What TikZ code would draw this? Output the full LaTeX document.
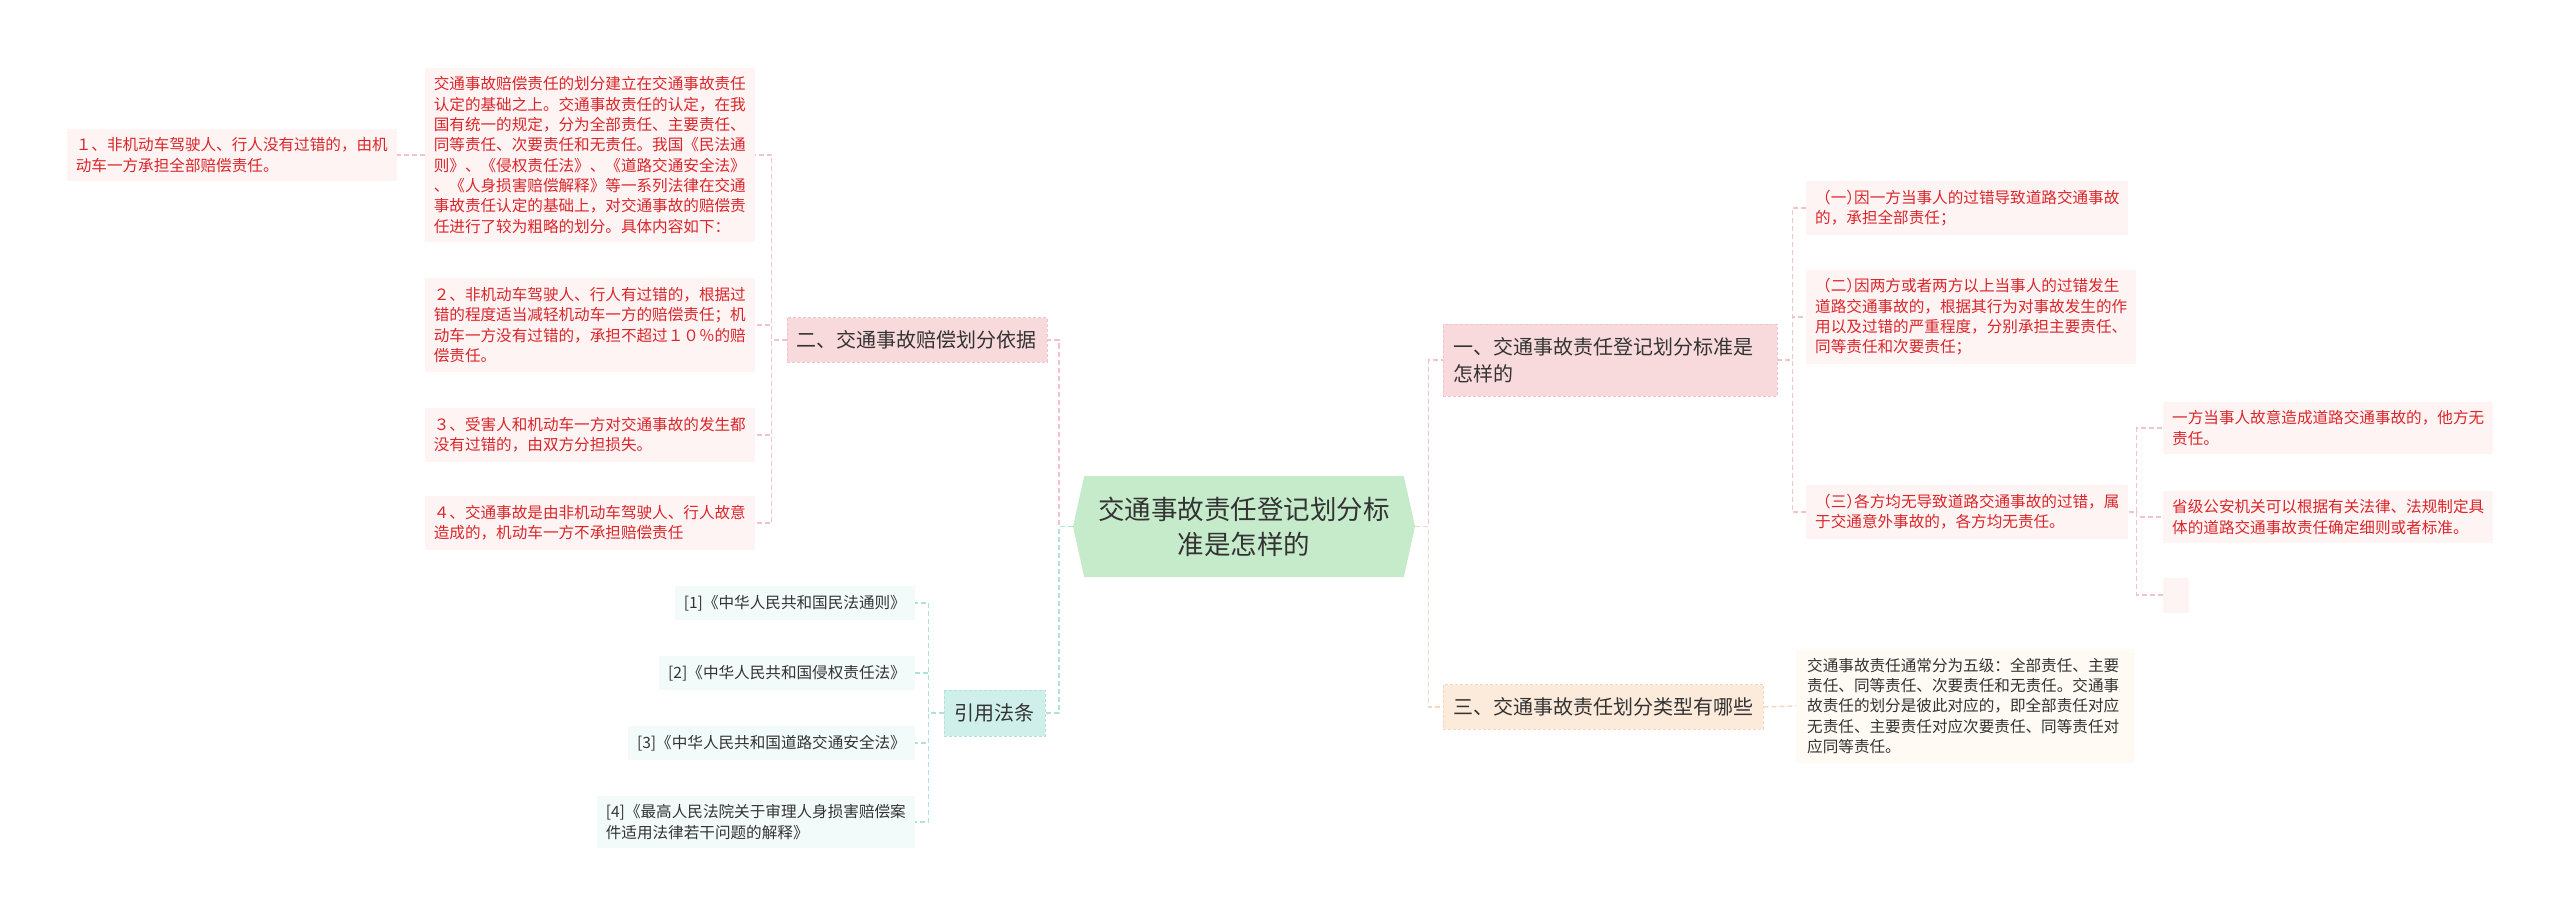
\documentclass[tikz,border=0pt]{standalone}
\usepackage{fontspec}
\setmainfont{Noto Sans CJK SC}
\usetikzlibrary{shapes.symbols}
\definecolor{croot}{RGB}{198,235,203}
\definecolor{cpk}{RGB}{249,218,220}
\definecolor{cpkedge}{RGB}{240,196,200}
\definecolor{cpch}{RGB}{252,234,219}
\definecolor{cpchedge}{RGB}{246,214,192}
\definecolor{ctl}{RGB}{206,239,234}
\definecolor{ctledge}{RGB}{176,225,218}
\definecolor{cleafpk}{RGB}{254,244,244}
\definecolor{cleafpch}{RGB}{255,250,244}
\definecolor{cleaftl}{RGB}{243,251,250}
\definecolor{cred}{RGB}{218,38,42}
\definecolor{ctxt}{RGB}{51,51,51}

\begin{document}
\begin{tikzpicture}[x=1pt,y=-1pt,
  rootbox/.style={shape=signal,signal to=west and east,signal pointer angle=155,fill=croot,text=ctxt,
    font=\fontsize{26.5}{35}\selectfont,align=center,minimum width=342,minimum height=101,inner xsep=4,inner ysep=0},
  secbox/.style={fill=#1,draw=#1edge,dash pattern=on 3pt off 2pt,text=ctxt,
    font=\fontsize{20}{27}\selectfont,align=left,inner xsep=10,inner ysep=13},
  leafbox/.style={fill=#1,font=\fontsize{15.6}{20.3}\selectfont,align=left,inner xsep=9,inner ysep=9},
  leafred/.style={leafbox=cleafpk,text=cred},
  leafpch/.style={leafbox=cleafpch,text=ctxt},
  leaftl/.style={leafbox=cleaftl,text=ctxt},
  link/.style={draw=#1edge,line width=1.4pt,dash pattern=on 5pt off 3pt},
]
\newcommand{\hclose}{{\addfontfeature{RawFeature=+halt}）}}

\fill[white] (0,0) rectangle (2560,917);
\useasboundingbox (0,0) rectangle (2560,917);

% ============================ centre ============================
\node[rootbox] (root) at (1244,526.5) {交通事故责任登记划分标\\准是怎样的};

% ============================ main sections ============================
\node[secbox=cpk,anchor=east] (sec2) at (1047,340) {二、交通事故赔偿划分依据};
\node[secbox=ctl,anchor=east,inner xsep=10.5,inner ysep=14] (laws) at (1045,713) {引用法条};
\node[secbox=cpk,anchor=west,text width=314] (sec1) at (1443,360) {一、交通事故责任登记划分标准是\\怎样的};
\node[secbox=cpch,anchor=west] (sec3) at (1443,707) {三、交通事故责任划分类型有哪些};

% root -> sections (the later colour covers the shared stub)
\draw[link=cpk] (root.west) -- ++(-14,0) |- (sec2.east);
\draw[link=ctl] (root.west) -- ++(-14,0) |- (laws.east);
\draw[link=cpk] (root.east) -- ++(13,0) |- (sec1.west);
\draw[link=cpch] (root.east) -- ++(13,0) |- (sec3.west);

% ============================ section 2: left, red leaves ============================
\node[leafred,anchor=east] (basis) at (755,155) {交通事故赔偿责任的划分建立在交通事故责任\\
  认定的基础之上。交通事故责任的认定，在我\\
  国有统一的规定，分为全部责任、主要责任、\\
  同等责任、次要责任和无责任。我国《民法通\\
  则》、《侵权责任法》、《道路交通安全法》\\
  、《人身损害赔偿解释》等一系列法律在交通\\
  事故责任认定的基础上，对交通事故的赔偿责\\
  任进行了较为粗略的划分。具体内容如下：};
\node[leafred,anchor=east] (rule1) at (397,155) {１、非机动车驾驶人、行人没有过错的，由机\\动车一方承担全部赔偿责任。};
\node[leafred,anchor=east] (rule2) at (755,325) {２、非机动车驾驶人、行人有过错的，根据过\\
  错的程度适当减轻机动车一方的赔偿责任；机\\
  动车一方没有过错的，承担不超过１０％的赔\\
  偿责任。};
\node[leafred,anchor=east] (rule3) at (755,435) {３、受害人和机动车一方对交通事故的发生都\\没有过错的，由双方分担损失。};
\node[leafred,anchor=east] (rule4) at (755,523) {４、交通事故是由非机动车驾驶人、行人故意\\造成的，机动车一方不承担赔偿责任};

\foreach \n in {basis,rule2,rule3,rule4}{
  \draw[link=cpk] (sec2.west) -- ++(-15,0) |- (\n.east);}
\draw[link=cpk] (basis.west) -- (rule1.east);

% ============================ cited laws: left, teal leaves ============================
\node[leaftl,anchor=east] (law1) at (915,603) {[1]《中华人民共和国民法通则》};
\node[leaftl,anchor=east] (law2) at (915,673) {[2]《中华人民共和国侵权责任法》};
\node[leaftl,anchor=east] (law3) at (915,743) {[3]《中华人民共和国道路交通安全法》};
\node[leaftl,anchor=east] (law4) at (915,822) {[4]《最高人民法院关于审理人身损害赔偿案\\件适用法律若干问题的解释》};

\foreach \n in {law1,law2,law3,law4}{
  \draw[link=ctl] (laws.west) -- ++(-15,0) |- (\n.east);}

% ============================ section 1: right, red leaves ============================
\node[leafred,anchor=west] (case1) at (1806,208) {（一\hclose 因一方当事人的过错导致道路交通事故\\的，承担全部责任；};
\node[leafred,anchor=west] (case2) at (1806,317) {（二\hclose 因两方或者两方以上当事人的过错发生\\
  道路交通事故的，根据其行为对事故发生的作\\
  用以及过错的严重程度，分别承担主要责任、\\
  同等责任和次要责任；};
\node[leafred,anchor=west] (case3) at (1806,512) {（三\hclose 各方均无导致道路交通事故的过错，属\\于交通意外事故的，各方均无责任。};

\foreach \n in {case1,case2,case3}{
  \draw[link=cpk] (sec1.east) -- ++(15,0) |- (\n.west);}

% notes under case 3 (the last one is an empty box)
\node[leafred,anchor=west] (note1) at (2163,428) {一方当事人故意造成道路交通事故的，他方无\\责任。};
\node[leafred,anchor=west] (note2) at (2163,517) {省级公安机关可以根据有关法律、法规制定具\\体的道路交通事故责任确定细则或者标准。};
\node[leafred,anchor=west,minimum width=26,minimum height=35] (note3) at (2163,595) {};

\foreach \n in {note1,note2,note3}{
  \draw[link=cpk] (case3.east) -- ++(8,0) |- (\n.west);}

% ============================ section 3: right, peach leaf ============================
\node[leafpch,anchor=west,text width=316,inner xsep=11] (grades) at (1796,706) {交通事故责任通常分为五级：全部责任、主要\\
  责任、同等责任、次要责任和无责任。交通事\\
  故责任的划分是彼此对应的，即全部责任对应\\
  无责任、主要责任对应次要责任、同等责任对\\
  应同等责任。};
\draw[link=cpch] (sec3.east) -- (grades.west);

\end{tikzpicture}
\end{document}
